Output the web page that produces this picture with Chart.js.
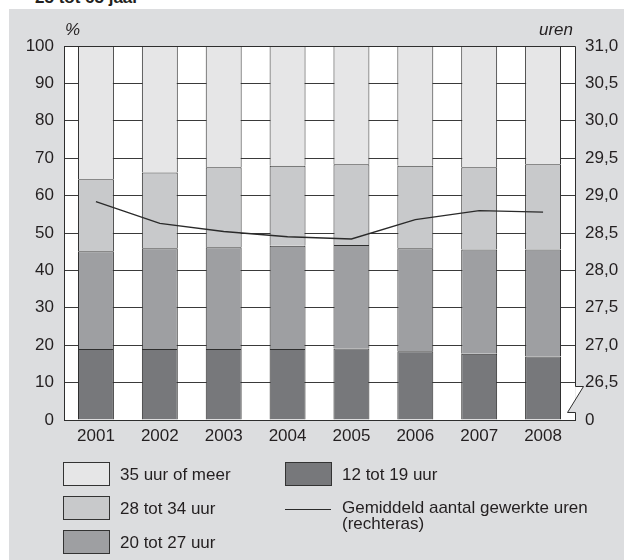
<!DOCTYPE html>
<html>
<head>
<meta charset="utf-8">
<script src="https://cdn.jsdelivr.net/npm/chart.js@4.4.1/dist/chart.umd.min.js"></script>
<style>
  body { margin: 0; background: #fff; font-family: "Liberation Sans", Arial, sans-serif; color: #231f20; }
  #wrap { position: relative; width: 624px; height: 560px; overflow: hidden; }
  #panel { position: absolute; left: 9px; top: 9px; width: 615px; height: 551px; background: #dcdddf; }
  #grafico { position: absolute; left: 0; top: 0; }
  .txt { position: absolute; font-size: 17px; line-height: 17px; white-space: nowrap; }
  .box { position: absolute; width: 45px; height: 22px; border: 1px solid #333; }
  .lijn { position: absolute; width: 46px; height: 0; border-top: 1.3px solid #2a2a2a; }
</style>
</head>
<body>
<div id="wrap">
  <div class="txt" style="left:35px; top:-11px; font-weight:bold;">25 tot 65 jaar</div>
  <div id="panel"></div>
  <canvas id="grafico" width="624" height="560"></canvas>
  <div class="txt" style="left:65px; top:21px; font-style:italic;">%</div>
  <div class="txt" style="left:539px; top:21px; font-style:italic;">uren</div>
  <div id="legenda"></div>
</div>
<script>
// Jaren (categorieën)
const jaren = ["2001", "2002", "2003", "2004", "2005", "2006", "2007", "2008"];

// Aandeel werkenden (%) per klasse arbeidsduur
const uur12tot19 = [19.0, 19.0, 19.0, 19.0, 19.1, 18.4, 17.7, 17.0];
const uur20tot27 = [26.1, 26.9, 27.2, 27.6, 27.7, 27.5, 27.9, 28.6];
const uur28tot34 = [19.3, 20.3, 21.4, 21.4, 21.6, 22.1, 22.0, 22.8];
const uur35plus  = [35.6, 33.8, 32.4, 32.0, 31.6, 32.0, 32.4, 31.6];

// Gemiddeld aantal gewerkte uren (rechteras)
const gemiddeldUren = [28.92, 28.63, 28.52, 28.45, 28.42, 28.68, 28.80, 28.78];

// Assen
const linksTicks = [0, 10, 20, 30, 40, 50, 60, 70, 80, 90, 100];
const rechtsMin = 26.0;
const rechtsMax = 31.0;

const kleuren = {
  licht: "#e6e6e7",
  middelLicht: "#c8c9cb",
  middel: "#9e9fa2",
  donker: "#77787b",
  rand: "#2e2e2e",
  grijs: "#dcdddf"
};

// Witte plotachtergrond, kader en asbreuk rechtsonder
const kaderPlugin = {
  id: "kader",
  beforeDraw(chart) {
    const { ctx, chartArea: a } = chart;
    ctx.save();
    ctx.fillStyle = "#fff";
    ctx.fillRect(a.left, a.top, a.right - a.left, a.bottom - a.top);
    ctx.restore();
  },
  afterDatasetsDraw(chart) {
    const { ctx, chartArea: a } = chart;
    const y2 = chart.scales.y2;
    const r = Math.round(a.right) + 0.5;
    const t = Math.round(a.top) + 0.5;
    const b = Math.round(a.bottom) + 0.5;
    const breukTop = Math.round(y2.getPixelForValue(26.5)) + 3.5;
    const breukOnder = b - 8;
    // snijpunt van de schuine lijn met de rechterrand
    const xa = r + 8, xb = r - 8;
    const yMid = breukTop + (breukOnder - breukTop) * (xa - r) / (xa - xb);
    ctx.save();
    ctx.fillStyle = "#fff";
    ctx.beginPath();
    ctx.moveTo(r, breukTop); ctx.lineTo(xa, breukTop); ctx.lineTo(r, yMid); ctx.closePath();
    ctx.fill();
    ctx.fillStyle = kleuren.grijs;
    ctx.beginPath();
    ctx.moveTo(r, yMid); ctx.lineTo(xb, breukOnder); ctx.lineTo(r, breukOnder); ctx.closePath();
    ctx.fill();
    ctx.strokeStyle = kleuren.rand;
    ctx.lineWidth = 1;
    ctx.beginPath();
    ctx.moveTo(Math.round(a.left), t);
    ctx.lineTo(r, t);
    ctx.lineTo(r, breukTop);
    ctx.lineTo(xa, breukTop);
    ctx.lineTo(xb, breukOnder);
    ctx.lineTo(r, breukOnder);
    ctx.lineTo(r, b);
    ctx.stroke();
    ctx.restore();
  }
};

const tickFont = { family: "'Liberation Sans', Arial, sans-serif", size: 17 };

const ctx = document.getElementById("grafico").getContext("2d");
const chart = new Chart(ctx, {
  data: {
    labels: jaren,
    datasets: [
      { type: "line", label: "Gemiddeld aantal gewerkte uren (rechteras)", data: gemiddeldUren, yAxisID: "y2",
        borderColor: "#2a2a2a", borderWidth: 1.3, pointRadius: 0, tension: 0, fill: false, order: 0 },
      { type: "bar", label: "12 tot 19 uur", data: uur12tot19, backgroundColor: kleuren.donker, order: 1 },
      { type: "bar", label: "20 tot 27 uur", data: uur20tot27, backgroundColor: kleuren.middel, order: 1 },
      { type: "bar", label: "28 tot 34 uur", data: uur28tot34, backgroundColor: kleuren.middelLicht, order: 1 },
      { type: "bar", label: "35 uur of meer", data: uur35plus, backgroundColor: kleuren.licht, order: 1 }
    ].map(d => d.type === "bar"
      ? Object.assign(d, { borderColor: kleuren.rand, borderWidth: 1, categoryPercentage: 1, barPercentage: 0.5625 })
      : d)
  },
  options: {
    responsive: false,
    animation: false,
    layout: { padding: { top: 46, left: 0, right: 0, bottom: 0 } },
    plugins: { legend: { display: false }, tooltip: { enabled: false } },
    scales: {
      x: {
        stacked: true,
        grid: { display: false, drawTicks: false },
        border: { display: true, color: kleuren.rand, width: 1 },
        ticks: { font: tickFont, color: "#231f20", padding: 6, maxRotation: 0 },
        afterFit(s) { s.height = 140; }
      },
      y: {
        stacked: true,
        min: 0, max: 100,
        afterBuildTicks(s) { s.ticks = linksTicks.map(v => ({ value: v })); },
        grid: { color: "#3a3a3a", lineWidth: 1, drawTicks: false },
        border: { display: true, color: kleuren.rand, width: 1 },
        ticks: { font: tickFont, color: "#231f20", padding: 10 },
        afterFit(s) { s.width = 64; }
      },
      y2: {
        position: "right",
        min: rechtsMin, max: rechtsMax,
        grid: { display: false, drawTicks: false },
        border: { display: false },
        ticks: {
          stepSize: 0.5, font: tickFont, color: "#231f20", padding: 10,
          callback: v => v === rechtsMin ? "0" : v.toFixed(1).replace(".", ",")
        },
        afterFit(s) { s.width = 49; }
      }
    }
  },
  plugins: [kaderPlugin]
});

// Legenda in twee kolommen
const legendaItems = [
  { tekst: "35 uur of meer", kleur: kleuren.licht, x: 63, y: 462 },
  { tekst: "28 tot 34 uur", kleur: kleuren.middelLicht, x: 63, y: 496 },
  { tekst: "20 tot 27 uur", kleur: kleuren.middel, x: 63, y: 530 },
  { tekst: "12 tot 19 uur", kleur: kleuren.donker, x: 285, y: 462 },
  { tekst: "Gemiddeld aantal gewerkte uren<br>(rechteras)", lijn: true, x: 285, y: 496 }
];
const legenda = document.getElementById("legenda");
legendaItems.forEach(item => {
  const sym = document.createElement("div");
  if (item.lijn) {
    sym.className = "lijn";
    sym.style.left = item.x + "px";
    sym.style.top = (item.y + 13) + "px";
  } else {
    sym.className = "box";
    sym.style.left = item.x + "px";
    sym.style.top = item.y + "px";
    sym.style.background = item.kleur;
  }
  legenda.appendChild(sym);
  const t = document.createElement("div");
  t.className = "txt";
  t.style.left = (item.x + 57) + "px";
  t.style.top = (item.y + 4) + "px";
  t.style.lineHeight = item.lijn ? "16px" : "17px";
  t.innerHTML = item.tekst;
  legenda.appendChild(t);
});
</script>
</body>
</html>
